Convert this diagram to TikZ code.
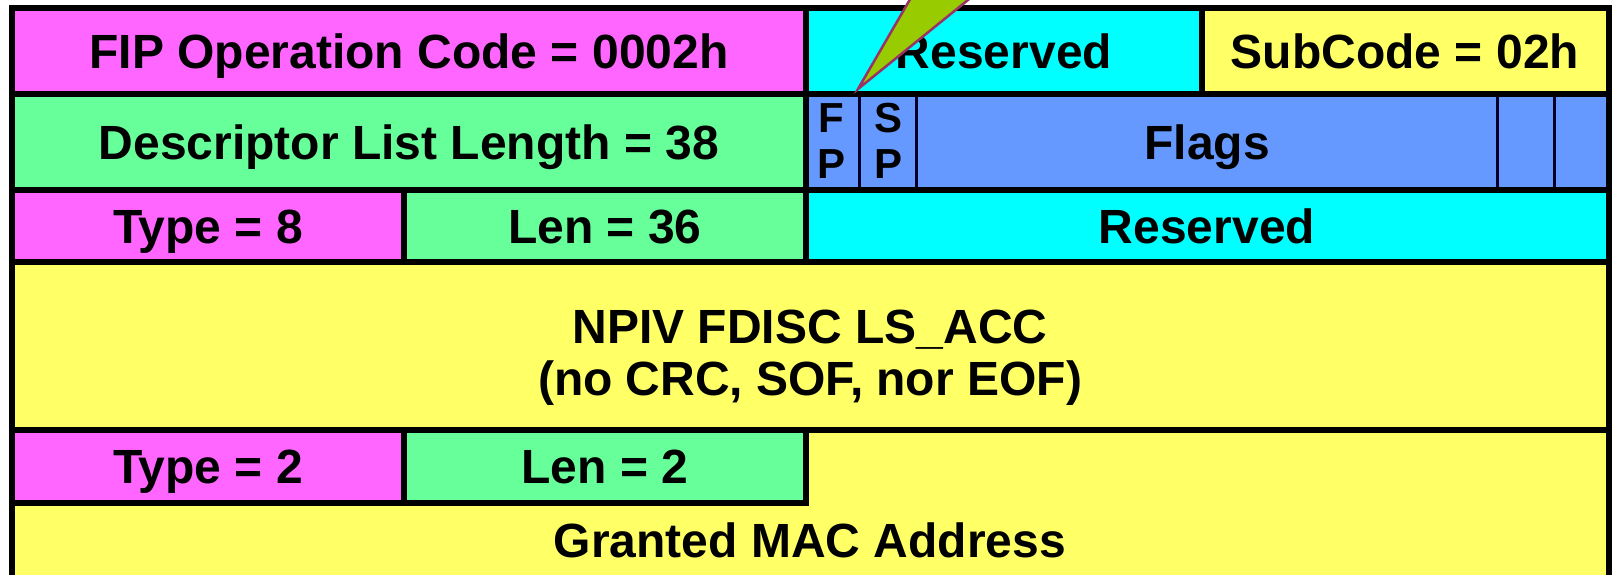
\documentclass[tikz,border=0pt]{standalone}
\usepackage{fontspec}
\setmainfont{Liberation Sans}
\definecolor{cmag}{HTML}{FF66FF}
\definecolor{cgrn}{HTML}{66FF99}
\definecolor{ccyn}{HTML}{00FFFF}
\definecolor{cyel}{HTML}{FFFF66}
\definecolor{cblu}{HTML}{6699FF}
\definecolor{ccall}{HTML}{99CC00}
\definecolor{ccallline}{HTML}{993366}
\tikzset{
  thickrule/.style={line width=6pt, black, line cap=rect},
  thinrule/.style={line width=3pt, black!85!blue},
  lbl/.style={font=\fontsize{48}{54}\selectfont\bfseries, inner sep=0pt, text height=34.4pt, text depth=0pt},
  smalllbl/.style={font=\fontsize{42}{47}\selectfont\bfseries, inner sep=0pt, text height=30pt, text depth=0pt},
  callout/.style={fill=ccall, draw=ccallline, line width=2.5pt, line join=miter}
}
\begin{document}
\begin{tikzpicture}[x=1pt,y=-1pt]
\useasboundingbox (0,0) rectangle (1612,574);
\clip (0,0) rectangle (1612,574);
\fill[white] (0,0) rectangle (1612,574);
% fills
\fill[cmag] (12,8) rectangle (806,94);
\fill[ccyn] (806,8) rectangle (1202,94);
\fill[cyel] (1202,8) rectangle (1609,94);
\fill[cgrn] (12,94) rectangle (806,190);
\fill[cblu] (806,94) rectangle (1609,190);
\fill[cmag] (12,190) rectangle (404,262);
\fill[cgrn] (404,190) rectangle (806,262);
\fill[ccyn] (806,190) rectangle (1609,262);
\fill[cyel] (12,262) rectangle (1609,590);
\fill[cmag] (12,430) rectangle (404,503);
\fill[cgrn] (404,430) rectangle (806,503);
% thin flag dividers
\draw[thinrule] (859,94) -- (859,190);
\draw[thinrule] (916,94) -- (916,190);
\draw[thinrule] (1497,94) -- (1497,190);
\draw[thinrule] (1554,94) -- (1554,190);
% thick rules
\draw[thickrule] (12,590) -- (12,8) -- (1609,8) -- (1609,590);
\draw[thickrule] (12,94) -- (1609,94);
\draw[thickrule] (12,190) -- (1609,190);
\draw[thickrule] (12,262) -- (1609,262);
\draw[thickrule] (12,430) -- (1609,430);
\draw[thickrule] (12,503) -- (806,503);
\draw[thickrule] (806,8) -- (806,262);
\draw[thickrule] (1202,8) -- (1202,94);
\draw[thickrule] (404,190) -- (404,262);
\draw[thickrule] (404,430) -- (404,503);
\draw[thickrule] (806,430) -- (806,503);
% labels
\node[lbl] (opcode) at (409,51.5) {FIP Operation Code = 0002h};
\node[lbl] (res1) at (1004,51.5) {Reserved};
\node[lbl] (subcode) at (1405,51.5) {SubCode = 02h};
\node[lbl] (dll) at (409,142) {Descriptor List Length = 38};
\node[smalllbl] (fpf) at (831,117) {F};
\node[smalllbl] (fpp) at (831,163) {P};
\node[smalllbl] (sps) at (888,117) {S};
\node[smalllbl] (spp) at (888,163) {P};
\node[lbl] (flags) at (1207,142) {Flags};
\node[lbl] (type8) at (208,226) {Type = 8};
\node[lbl] (len36) at (605,226) {Len = 36};
\node[lbl] (res3) at (1207,226) {Reserved};
\node[lbl] (npiva) at (810,326) {NPIV FDISC LS\_ACC};
\node[lbl] (npivb) at (810,378) {(no CRC, SOF, nor EOF)};
\node[lbl] (type2) at (208,466) {Type = 2};
\node[lbl] (len2) at (605,466) {Len = 2};
\node[lbl] (mac) at (810,540) {Granted MAC Address};
% callout
\coordinate (tip) at (858,89);
\draw[callout] (tip) -- (927,-30) -- (1005,-30) -- cycle;
\end{tikzpicture}
\end{document}
